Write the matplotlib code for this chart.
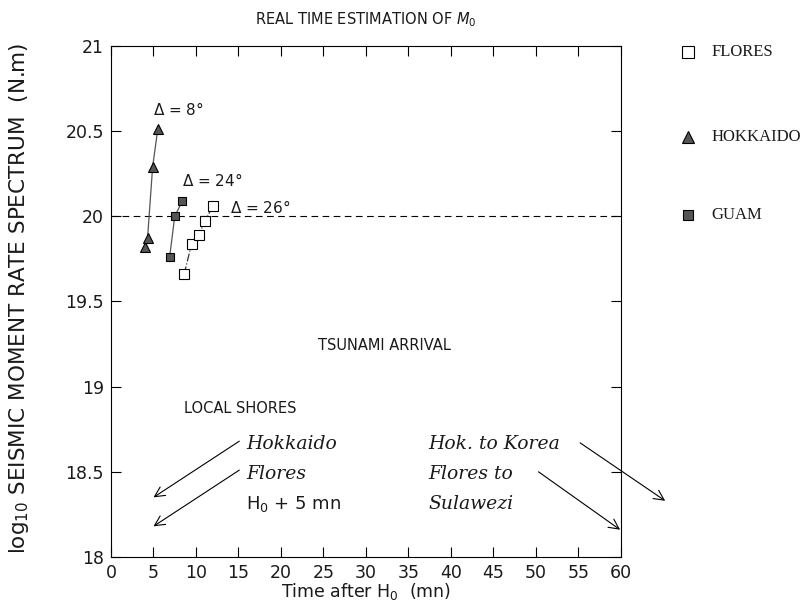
import matplotlib
matplotlib.use("Agg")
import matplotlib.pyplot as plt
from matplotlib.lines import Line2D

# Data (time after H0 in minutes, log10 M0)
flores_t = [8.6, 9.5, 10.3, 11.06, 11.96]
flores_m = [19.66, 19.84, 19.89, 19.97, 20.06]
hokkaido_t = [4.0, 4.3, 4.9, 5.5]
hokkaido_m = [19.82, 19.87, 20.29, 20.51]
guam_t = [6.9, 7.5, 8.4]
guam_m = [19.76, 20.00, 20.09]

series_names = ["FLORES", "HOKKAIDO", "GUAM"]
delta_labels = ["$\\Delta$ = 8°", "$\\Delta$ = 24°", "$\\Delta$ = 26°"]
delta_pos = [(5.0, 20.63), (8.4, 20.21), (14.0, 20.05)]
ref_level = 20.0

xticks = list(range(0, 61, 5))
yticks = [18, 18.5, 19, 19.5, 20, 20.5, 21]
ytick_labels = ["18", "18.5", "19", "19.5", "20", "20.5", "21"]

fig = plt.figure(figsize=(8.03, 6.07), dpi=100)
ax = fig.add_axes([0.1382, 0.0824, 0.6351, 0.8418])
ax.set_xlim(0, 60)
ax.set_ylim(18, 21)

sans = "DejaVu Sans"
serif = "DejaVu Serif"
legserif = "Liberation Serif"
tcol = "#1a1a1a"

ax.axhline(ref_level, color="black", lw=0.8, ls=(0, (6, 4)))

ax.plot(hokkaido_t, hokkaido_m, color="#555555", lw=0.9, zorder=2)
ax.plot(guam_t, guam_m, color="#555555", lw=0.9, zorder=2)
ax.plot(flores_t, flores_m, color="#333333", lw=0.9, ls="-.", zorder=2)

ax.plot(hokkaido_t, hokkaido_m, ls="none", marker="^", ms=7, mfc="#555555", mec="black", mew=0.8, zorder=3)
ax.plot(guam_t, guam_m, ls="none", marker="s", ms=6, mfc="#555555", mec="black", mew=0.8, zorder=3)
ax.plot(flores_t, flores_m, ls="none", marker="s", ms=7, mfc="white", mec="black", mew=0.8, zorder=3)

for lab, (x, y) in zip(delta_labels, delta_pos):
    ax.text(x, y, lab, fontsize=11, family=sans, ha="left", va="center", color=tcol)

ax.set_xticks(xticks)
ax.set_yticks(yticks)
ax.set_yticklabels(ytick_labels)
ax.tick_params(direction="in", length=7, width=0.8, top=True, right=True, labelsize=12.5, pad=5,
               labelcolor=tcol)
for lab in ax.get_xticklabels() + ax.get_yticklabels():
    lab.set_family(sans)
for s in ax.spines.values():
    s.set_linewidth(0.8)

fig.text(366 / 803, 1 - 592 / 607, "Time after H$_0$  (mn)", fontsize=12.5, family=sans,
         ha="center", va="center", color=tcol)
fig.text(19 / 803, 1 - 298 / 607, "log$_{10}$ SEISMIC MOMENT RATE SPECTRUM  (N.m)", fontsize=15.5,
         family=sans, rotation=90, ha="center", va="center", color=tcol)
fig.text(366 / 803, 1 - 20 / 607, "REAL TIME ESTIMATION OF $M_0$", fontsize=10.5, family=sans,
         ha="center", va="center", color=tcol)

# Legend at right
leg_y = [0.914, 0.774, 0.646]
styles = [dict(marker="s", ms=8, mfc="white", mec="black"),
          dict(marker="^", ms=8, mfc="#555555", mec="black"),
          dict(marker="s", ms=7, mfc="#555555", mec="black")]
for name, y, st in zip(series_names, leg_y, styles):
    fig.add_artist(Line2D([0.857], [y], ls="none", mew=0.8, transform=fig.transFigure, **st))
    fig.text(0.886, y, name, fontsize=12, family=legserif, va="center", ha="left", color=tcol)

# Annotations
ax.text(32.2, 19.24, "TSUNAMI ARRIVAL", fontsize=10.5, family=sans, ha="center", va="center", color=tcol)
ax.text(8.6, 18.87, "LOCAL SHORES", fontsize=10.5, family=sans, ha="left", va="center", color=tcol)
ax.text(15.9, 18.665, "Hokkaido", fontsize=13.5, family=serif, style="italic", ha="left", va="center", color=tcol)
ax.text(15.9, 18.49, "Flores", fontsize=13.5, family=serif, style="italic", ha="left", va="center", color=tcol)
ax.text(15.9, 18.31, "H$_0$ + 5 mn", fontsize=13, family=sans, ha="left", va="center", color=tcol)
ax.text(37.3, 18.665, "Hok. to Korea", fontsize=13.5, family=serif, style="italic", ha="left", va="center", color=tcol)
ax.text(37.3, 18.49, "Flores to", fontsize=13.5, family=serif, style="italic", ha="left", va="center", color=tcol)
ax.text(37.3, 18.31, "Sulawezi", fontsize=13.5, family=serif, style="italic", ha="left", va="center", color=tcol)

arrows = [((15.1, 18.68), (5.0, 18.35)),
          ((15.1, 18.51), (5.0, 18.18)),
          ((55.2, 18.67), (65.2, 18.33)),
          ((50.3, 18.50), (59.9, 18.16))]
for start, end in arrows:
    ax.annotate("", xy=end, xytext=start, annotation_clip=False,
                arrowprops=dict(arrowstyle="->", lw=0.8, color="black",
                                mutation_scale=18, shrinkA=0, shrinkB=0))

fig.savefig("out.png", dpi=100)
